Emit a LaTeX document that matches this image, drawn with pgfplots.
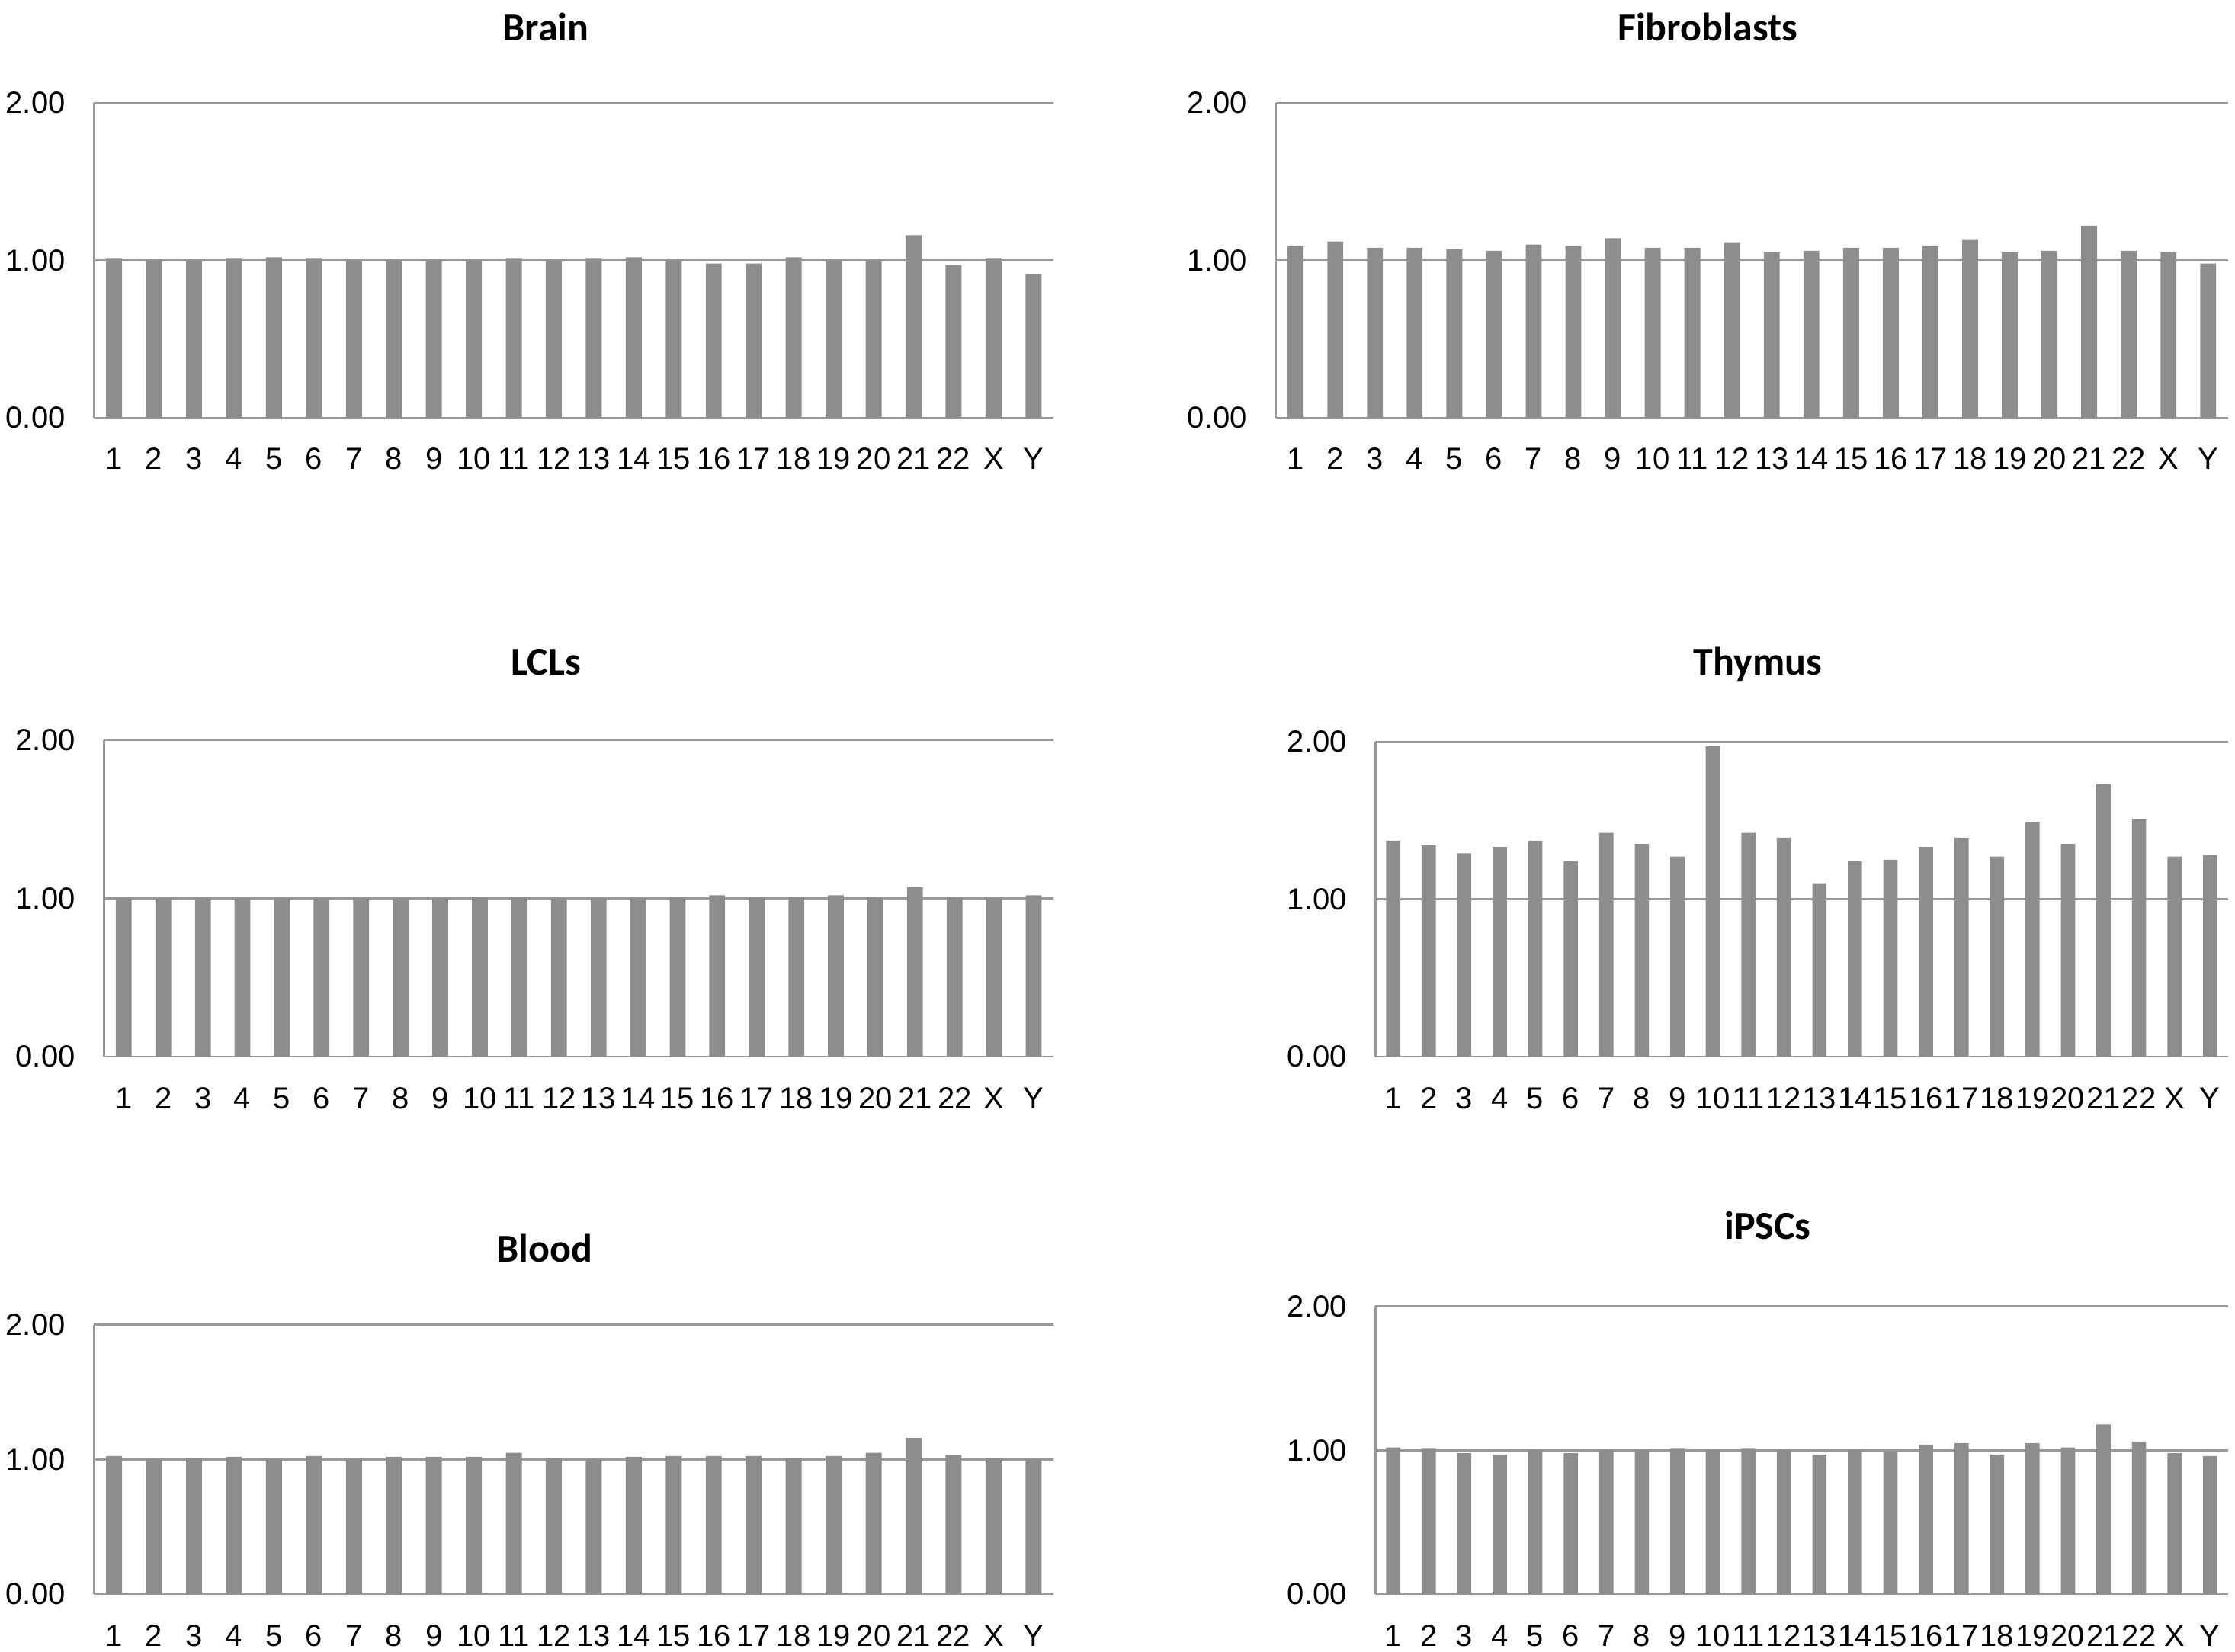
\documentclass[border=0pt]{standalone}
\usepackage{fontspec}
\setmainfont{Liberation Sans}
\newfontfamily\titlefont{Carlito}
\usepackage{pgfplots}
\pgfplotsset{compat=1.18}
\definecolor{barg}{RGB}{141,141,141}
\definecolor{gridg}{RGB}{152,152,152}
\pgfplotsset{chrom/.style={
  scale only axis, anchor=south west,
  ybar, bar width=0.4,
  xmin=-0.5, xmax=23.5, ymin=0, ymax=2,
  xtick={0,1,2,3,4,5,6,7,8,9,10,11,12,13,14,15,16,17,18,19,20,21,22,23},
  xticklabels={1,2,3,4,5,6,7,8,9,10,11,12,13,14,15,16,17,18,19,20,21,22,X,Y},
  ytick={0,1,2}, yticklabels={0.00,1.00,2.00},
  axis x line=bottom, axis y line=left,
  axis line style={draw=gridg, line width=0.6pt, -},
  ymajorgrids, grid style={draw=gridg, line width=0.6pt},
  major tick length=0pt,
  tick label style={font=\fontsize{10}{12}\selectfont, inner sep=0pt},
  xticklabel style={anchor=base, yshift=-17pt},
  yticklabel style={anchor=east, xshift=-9.25pt},
},
bars/.style={fill=barg, draw=none}}
\newcommand{\ttl}[3]{\node[font=\titlefont\bfseries\fontsize{13}{15}\selectfont, anchor=base] at (#1pt,#2pt) {#3};}
\begin{document}
\begin{tikzpicture}
\useasboundingbox (0,0) rectangle (733pt,541.5pt);
% Brain
\begin{axis}[chrom, at={(30.85pt,404.5pt)}, width=314.65pt, height=103.3pt]
\addplot[bars] coordinates {(0,1.01)(1,1.00)(2,1.00)(3,1.01)(4,1.02)(5,1.01)(6,1.00)(7,1.00)(8,1.00)(9,1.00)(10,1.01)(11,1.00)(12,1.01)(13,1.02)(14,1.00)(15,0.98)(16,0.98)(17,1.02)(18,1.00)(19,1.00)(20,1.16)(21,0.97)(22,1.01)(23,0.91)};
\end{axis}
% Fibroblasts
\begin{axis}[chrom, at={(418.4pt,404.5pt)}, width=312.3pt, height=103.3pt]
\addplot[bars] coordinates {(0,1.09)(1,1.12)(2,1.08)(3,1.08)(4,1.07)(5,1.06)(6,1.10)(7,1.09)(8,1.14)(9,1.08)(10,1.08)(11,1.11)(12,1.05)(13,1.06)(14,1.08)(15,1.08)(16,1.09)(17,1.13)(18,1.05)(19,1.06)(20,1.22)(21,1.06)(22,1.05)(23,0.98)};
\end{axis}
% LCLs
\begin{axis}[chrom, at={(34.1pt,195pt)}, width=311.4pt, height=103.8pt]
\addplot[bars] coordinates {(0,1.00)(1,1.00)(2,1.00)(3,1.00)(4,1.00)(5,1.00)(6,1.00)(7,1.00)(8,1.00)(9,1.01)(10,1.01)(11,1.00)(12,1.00)(13,1.00)(14,1.01)(15,1.02)(16,1.01)(17,1.01)(18,1.02)(19,1.01)(20,1.07)(21,1.01)(22,1.00)(23,1.02)};
\end{axis}
% Thymus
\begin{axis}[chrom, at={(451.1pt,195pt)}, width=279.55pt, height=103.3pt]
\addplot[bars] coordinates {(0,1.37)(1,1.34)(2,1.29)(3,1.33)(4,1.37)(5,1.24)(6,1.42)(7,1.35)(8,1.27)(9,1.97)(10,1.42)(11,1.39)(12,1.10)(13,1.24)(14,1.25)(15,1.33)(16,1.39)(17,1.27)(18,1.49)(19,1.35)(20,1.73)(21,1.51)(22,1.27)(23,1.28)};
\end{axis}
% Blood
\begin{axis}[chrom, at={(30.85pt,18.7pt)}, width=314.65pt, height=88.4pt]
\addplot[bars] coordinates {(0,1.025)(1,1.00)(2,1.01)(3,1.02)(4,1.00)(5,1.025)(6,1.00)(7,1.02)(8,1.02)(9,1.02)(10,1.05)(11,1.01)(12,1.00)(13,1.02)(14,1.025)(15,1.025)(16,1.025)(17,1.01)(18,1.025)(19,1.05)(20,1.16)(21,1.035)(22,1.01)(23,1.00)};
\end{axis}
% iPSCs
\begin{axis}[chrom, at={(451.1pt,18.7pt)}, width=279.55pt, height=94.45pt]
\addplot[bars] coordinates {(0,1.02)(1,1.01)(2,0.98)(3,0.97)(4,1.00)(5,0.98)(6,1.00)(7,1.00)(8,1.01)(9,1.00)(10,1.01)(11,1.00)(12,0.97)(13,1.00)(14,0.99)(15,1.04)(16,1.05)(17,0.97)(18,1.05)(19,1.02)(20,1.18)(21,1.06)(22,0.98)(23,0.96)};
\end{axis}
\ttl{179}{528}{Brain}
\ttl{560}{528}{Fibroblasts}
\ttl{179}{320}{LCLs}
\ttl{576.5}{320}{Thymus}
\ttl{178.5}{127.75}{Blood}
\ttl{579.75}{135.25}{iPSCs}
\end{tikzpicture}
\end{document}
